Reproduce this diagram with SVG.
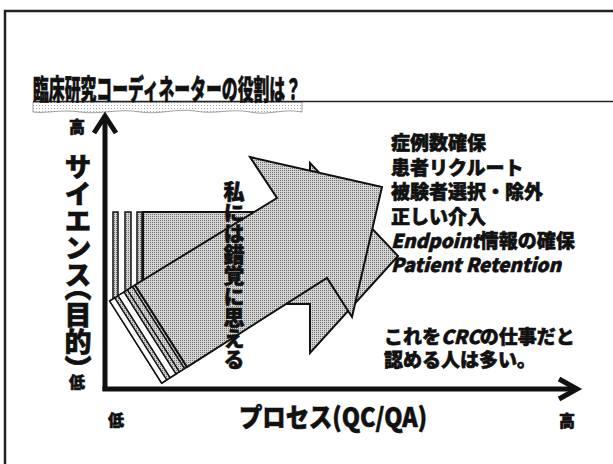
<svg xmlns="http://www.w3.org/2000/svg" width="613" height="464" viewBox="0 0 613 464">
  <defs>
    <!-- halftone grey used for the arrow bodies -->
    <pattern id="halftone" width="2" height="2" patternUnits="userSpaceOnUse">
      <rect width="2" height="2" fill="#d4d4d4"/>
      <rect width="1" height="1" fill="#6e6e6e"/>
    </pattern>
    <!-- sparse speckle for the title shadow -->
    <pattern id="speckle" width="3" height="3" patternUnits="userSpaceOnUse">
      <rect width="3" height="3" fill="#ffffff"/>
      <rect width="1" height="1" fill="#a8a8a8"/>
    </pattern>
    <style>
      .jp { font-family: "Noto Sans CJK JP", "Noto Sans", sans-serif; font-weight: 900; fill: #111; stroke: #111; stroke-width: 0.6; }
      .shape { fill: url(#halftone); stroke: #111; stroke-width: 2; stroke-linejoin: miter; }
      .strip { fill: #fff; stroke: #111; stroke-width: 1.5; }
      .strip-grey { fill: url(#halftone); stroke: #111; stroke-width: 1.5; }
      .axis { fill: none; stroke: #111; stroke-width: 5; stroke-linejoin: miter; }
      .vert { writing-mode: vertical-rl; }
    </style>
  </defs>

  <rect width="613" height="464" fill="#fff"/>

  <!-- slide frame -->
  <g id="frame" fill="none" stroke="#222" stroke-width="2.5">
    <line x1="4" y1="11" x2="613" y2="11"/>
    <line x1="5" y1="10" x2="5" y2="464"/>
  </g>

  <!-- title with underline and its faint shadow -->
  <g id="title">
    <path d="M33,102 H302 V112 C282,108 270,116 250,112 C230,108 215,115 195,111 C175,108 160,115 140,112 C120,108 100,115 80,112 C60,109 45,114 33,112 Z" fill="url(#speckle)" stroke="#888" stroke-width="0.8"/>
    <line x1="33" y1="101.5" x2="613" y2="101.5" stroke="#222" stroke-width="1.5"/>
    <text class="jp" x="33" y="100" font-size="28" stroke-width="1.1" textLength="268" lengthAdjust="spacingAndGlyphs">臨床研究コーディネーターの役割は？</text>
  </g>

  <!-- horizontal arrow (back) with its stacked edge strips -->
  <g id="arrow-back">
    <rect class="strip-grey" x="113" y="212" width="5" height="91"/>
    <rect class="strip-grey" x="125" y="212" width="6" height="91"/>
    <rect class="strip-grey" x="137" y="212" width="5" height="91"/>
    <polygon class="shape" points="143,212 310,212 310,163 398,256 310,353 310,304 143,304"/>
  </g>

  <!-- tilted arrow (front) with its stacked edge strips -->
  <g id="arrow-front">
    <polygon class="strip-grey" points="135,285 187,367 161.7,383.1 109.7,301.1"/>
    <polygon class="strip" points="114.7,297.9 166.7,379.9 161.7,383.1 109.7,301.1"/>
    <polygon class="strip" points="124.0,292.0 176.0,374.0 170.1,377.7 118.1,295.7"/>
    <polygon class="strip-grey" points="132.5,286.6 184.5,368.6 179.4,371.8 127.4,289.8"/>
    <polygon class="shape" points="135,285 277,198 250,157 382,187 352,317 327,278 187,367"/>
  </g>

  <!-- axes -->
  <g id="axes">
    <line class="axis" x1="105" y1="116" x2="105" y2="391"/>
    <line class="axis" x1="102.5" y1="389" x2="576" y2="389"/>
    <polyline class="axis" points="94,133 105,116 116,133"/>
    <polyline class="axis" points="559,379 577,389 559,399"/>
  </g>

  <!-- vertical axis label -->
  <g id="y-label">
    <text class="jp" x="77" y="133" font-size="16" text-anchor="middle">高</text>
    <text class="jp vert" x="78" y="153" font-size="27">サイエンス<tspan dy="-14">（</tspan>目的）</text>
    <text class="jp" x="77" y="388" font-size="16" text-anchor="middle">低</text>
  </g>

  <!-- horizontal axis label -->
  <g id="x-label">
    <text class="jp" x="116" y="426" font-size="16" text-anchor="middle">低</text>
    <text class="jp" x="333" y="427" font-size="26" text-anchor="middle" textLength="188" lengthAdjust="spacingAndGlyphs">プロセス(QC/QA)</text>
    <text class="jp" x="567" y="427" font-size="16" text-anchor="middle">高</text>
  </g>

  <!-- remark written down the arrows -->
  <g id="illusion-note">
    <text class="jp vert" x="234" y="181" font-size="21">私には錯覚に思える</text>
  </g>

  <!-- list of tasks -->
  <g id="task-list" font-size="19">
    <text class="jp" x="391" y="150">症例数確保</text>
    <text class="jp" x="391" y="175">患者リクルート</text>
    <text class="jp" x="391" y="199">被験者選択・除外</text>
    <text class="jp" x="391" y="224">正しい介入</text>
    <text class="jp" x="391" y="248"><tspan font-style="italic">Endpoint</tspan>情報の確保</text>
    <text class="jp" x="391" y="272" font-style="italic">Patient Retention</text>
  </g>

  <!-- closing remark -->
  <g id="note" font-size="19">
    <text class="jp" x="384" y="344">これを<tspan font-style="italic">CRC</tspan>の仕事だと</text>
    <text class="jp" x="384" y="367">認める人は多い。</text>
  </g>
</svg>
